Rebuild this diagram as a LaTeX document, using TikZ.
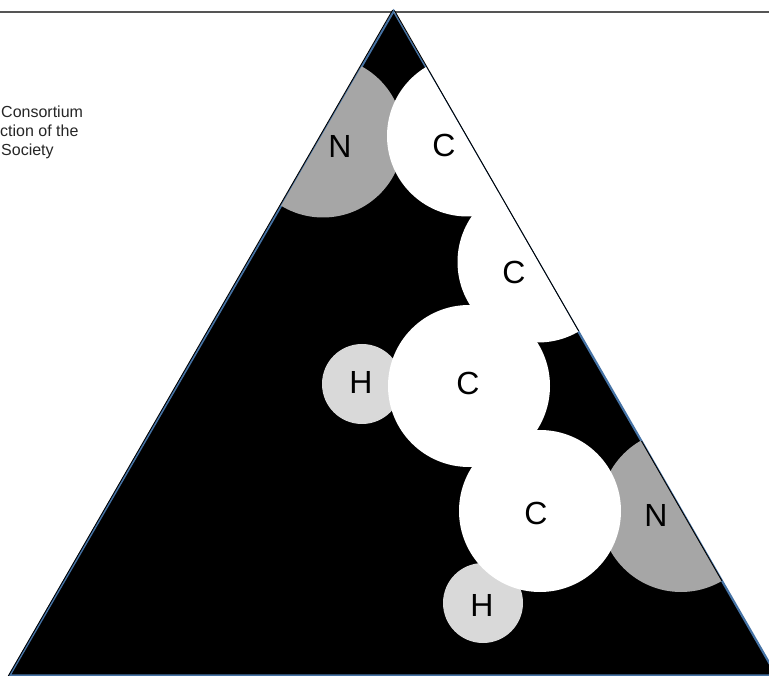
\documentclass[tikz,border=0pt]{standalone}
\usepackage{fontspec}
\setmainfont{Liberation Sans}
\definecolor{edgeblue}{RGB}{70,115,165}
\definecolor{rulegray}{RGB}{85,85,85}
\definecolor{ngray}{RGB}{166,166,166}
\definecolor{hgray}{RGB}{217,217,217}
\tikzset{
  px/.style={x=1pt,y=-1pt},
  atomlabel/.style={inner sep=0pt,font=\fontsize{32}{32}\selectfont,text=black},
  notetext/.style={inner sep=0pt,anchor=base west,font=\fontsize{16}{16}\selectfont,text=black!85},
}
\begin{document}
\begin{tikzpicture}[px]
\useasboundingbox (0,0) rectangle (769,676);
\clip (0,0) rectangle (769,676);
\fill[white] (0,0) rectangle (769,676);
\coordinate (apex) at (393.7,11);
\coordinate (bl) at (9.5,675.5);
\coordinate (br) at (776.5,675.5);
\draw[rulegray,line width=1.2pt] (0,12) -- (769,12);
\filldraw[black,draw=edgeblue,line width=2.2pt] (apex) -- (bl) -- (br) -- cycle;
\begin{scope}
  \clip (apex) -- (bl) -- (br) -- cycle;
  \fill[ngray] (323,137) circle (80.5);
  \fill[ngray] (681,511) circle (81);
  \fill[hgray] (362,384) circle (40);
  \fill[hgray] (483,603) circle (40);
  \fill[white] (467.5,136) circle (80.5);
  \fill[white] (538,262) circle (80.5);
  \fill[white] (469,386) circle (81);
  \fill[white] (540,511) circle (81);
\end{scope}
\fill[white] (394.6,11.5) -- (429,71) -- (769,71) -- (769,13) -- (394.6,13) -- cycle;
\draw[rulegray,line width=1.2pt] (394.5,12) -- (769,12);
\fill[white] (581,331) -- (769,657) -- (769,331) -- cycle;
\draw[black,line width=0.9pt] (392.7,10) -- (8.3,676);
\draw[black,line width=0.9pt] (394.4,10.5) -- (578.7,331);
\draw[black,line width=0.9pt] (641.5,441) -- (722,581);
\node[atomlabel] (n1) at (340,146) {N};
\node[atomlabel] (c1) at (444,145) {C};
\node[atomlabel] (c2) at (514,272) {C};
\node[atomlabel] (h1) at (361,382) {H};
\node[atomlabel] (c3) at (468,383) {C};
\node[atomlabel] (c4) at (536,513) {C};
\node[atomlabel] (n2) at (656,515) {N};
\node[atomlabel] (h2) at (482,605) {H};
\node[notetext] (t1) at (1,118) {Consortium};
\node[notetext] (t2) at (0,137) {ction of the};
\node[notetext] (t3) at (1,156) {Society};
\end{tikzpicture}
\end{document}
